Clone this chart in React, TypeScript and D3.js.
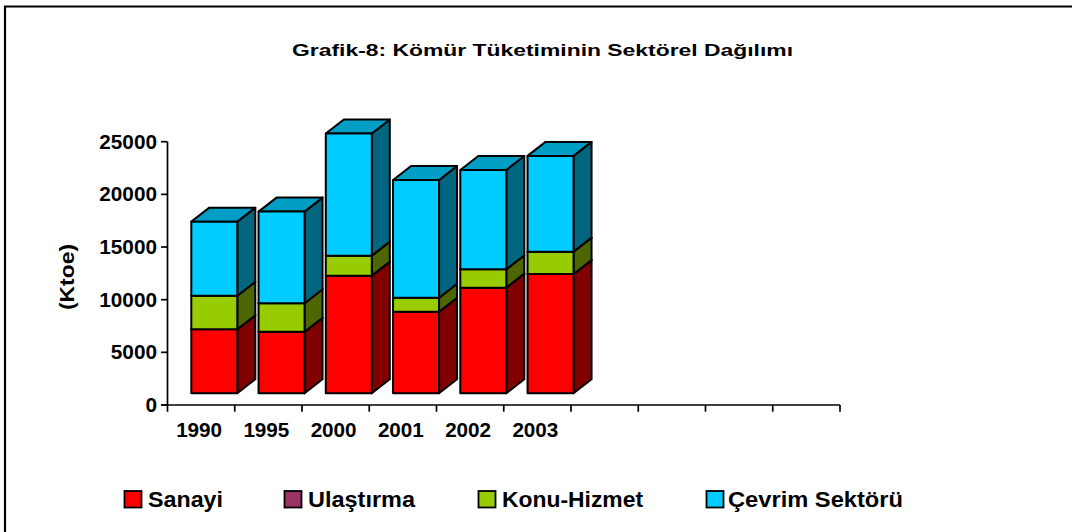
import React from "react";
import * as d3 from "d3";

const years = ["1990", "1995", "2000", "2001", "2002", "2003", "", "", "", ""];
const sanayi = [6080, 5850, 11170, 7750, 10030, 11330];
const ulastirma = [0, 0, 0, 0, 0, 0];
const konuHizmet = [3190, 2700, 1900, 1330, 1750, 2120];
const cevrim = [7030, 8700, 11590, 11180, 9430, 9090];
const yTicks = [0, 5000, 10000, 15000, 20000, 25000];
const seriesNames = ["Sanayi", "Ulaştırma", "Konu-Hizmet", "Çevrim Sektörü"];
const frontColors = ["#FF0000", "#993366", "#99CC00", "#00CCFF"];
const sideColors = ["#800000", "#4D1A33", "#4D6600", "#006680"];
const topColors = ["#CC0000", "#7A2952", "#7AA300", "#009DC4"];
const legendSwatchX = [124.5, 284.5, 478.5, 706.5];
const legendTextX = [148, 308, 502, 728];
const legendTextW = [75, 107, 141, 175];

const FONT = "'Liberation Sans', Arial, sans-serif";
const dx = 18;
const dy = 14;
const floorLift = 11.7;

export default function App() {
  const x = d3.scaleBand<number>().domain(d3.range(years.length)).range([167.5, 840]);
  const y = d3.scaleLinear().domain([0, 25000]).range([405, 141.7]);
  const rows = sanayi.map((_, i) => ({
    i,
    s0: sanayi[i],
    s1: ulastirma[i],
    s2: konuHizmet[i],
    s3: cevrim[i],
  }));
  const stack = d3.stack<any>().keys(["s0", "s1", "s2", "s3"]);
  const layers = stack(rows);
  const barOffset = 23.8;
  const barW = 46;
  const py = (v: number) => y(v) - floorLift;

  return (
    <svg
      width={1072}
      height={532}
      style={{ position: "absolute", left: 0, top: 0, display: "block", background: "#fff" }}
      fontFamily={FONT}
      fontWeight="bold"
    >
      <path d="M5 532V6.5H1072" fill="none" stroke="#000" strokeWidth={2.2} />
      <text x={292} y={56} fontSize={17} textLength={501} lengthAdjust="spacingAndGlyphs">
        Grafik-8: Kömür Tüketiminin Sektörel Dağılımı
      </text>
      <text
        transform="translate(74,277) rotate(-90)"
        textAnchor="middle"
        fontSize={20}
        textLength={66}
        lengthAdjust="spacingAndGlyphs"
      >
        (Ktoe)
      </text>

      {layers.map((layer, k) =>
        layer.map((d, j) => {
          if (d[1] - d[0] <= 0) return null;
          const i = (d.data as any).i as number;
          const l = (x(i) as number) + barOffset;
          const r = l + barW;
          const t = py(d[1]);
          const b = py(d[0]);
          return (
            <g key={`${k}-${j}`} stroke="#000" strokeWidth={2} strokeLinejoin="round">
              <path
                d={`M${r} ${b}L${r + dx} ${b - dy}L${r + dx} ${t - dy}L${r} ${t}Z`}
                fill={sideColors[k]}
              />
              <path
                d={`M${l} ${t}L${l + dx} ${t - dy}L${r + dx} ${t - dy}L${r} ${t}Z`}
                fill={topColors[k]}
              />
              <rect x={l} y={t} width={barW} height={b - t} fill={frontColors[k]} />
            </g>
          );
        })
      )}

      <g stroke="#000" strokeWidth={1.7}>
        <line x1={167.5} x2={167.5} y1={y(25000)} y2={411.7} />
        <line x1={161} x2={840} y1={405} y2={405} />
        {yTicks.map((t) => (
          <line key={t} x1={161} x2={167.5} y1={y(t)} y2={y(t)} />
        ))}
        {years.map((_, i) => (
          <line
            key={i}
            x1={(x(i) as number) + x.bandwidth()}
            x2={(x(i) as number) + x.bandwidth()}
            y1={405}
            y2={411.7}
          />
        ))}
      </g>
      {yTicks.map((t) => {
        const label = String(t);
        return (
          <text
            key={t}
            x={157}
            y={y(t) + 7}
            fontSize={20}
            textAnchor="end"
            textLength={label.length * 11.55}
            lengthAdjust="spacingAndGlyphs"
          >
            {label}
          </text>
        );
      })}
      {years.map((yr, i) =>
        yr ? (
          <text
            key={i}
            x={(x(i) as number) + x.bandwidth() / 2 - 25}
            y={437}
            fontSize={20}
            textLength={46}
            lengthAdjust="spacingAndGlyphs"
          >
            {yr}
          </text>
        ) : null
      )}

      {seriesNames.map((n, k) => (
        <g key={n}>
          <rect
            x={legendSwatchX[k]}
            y={491}
            width={17}
            height={16.5}
            fill={frontColors[k]}
            stroke="#000"
            strokeWidth={1.8}
          />
          <text
            x={legendTextX[k]}
            y={507}
            fontSize={22}
            textLength={legendTextW[k]}
            lengthAdjust="spacingAndGlyphs"
          >
            {n}
          </text>
        </g>
      ))}
    </svg>
  );
}
